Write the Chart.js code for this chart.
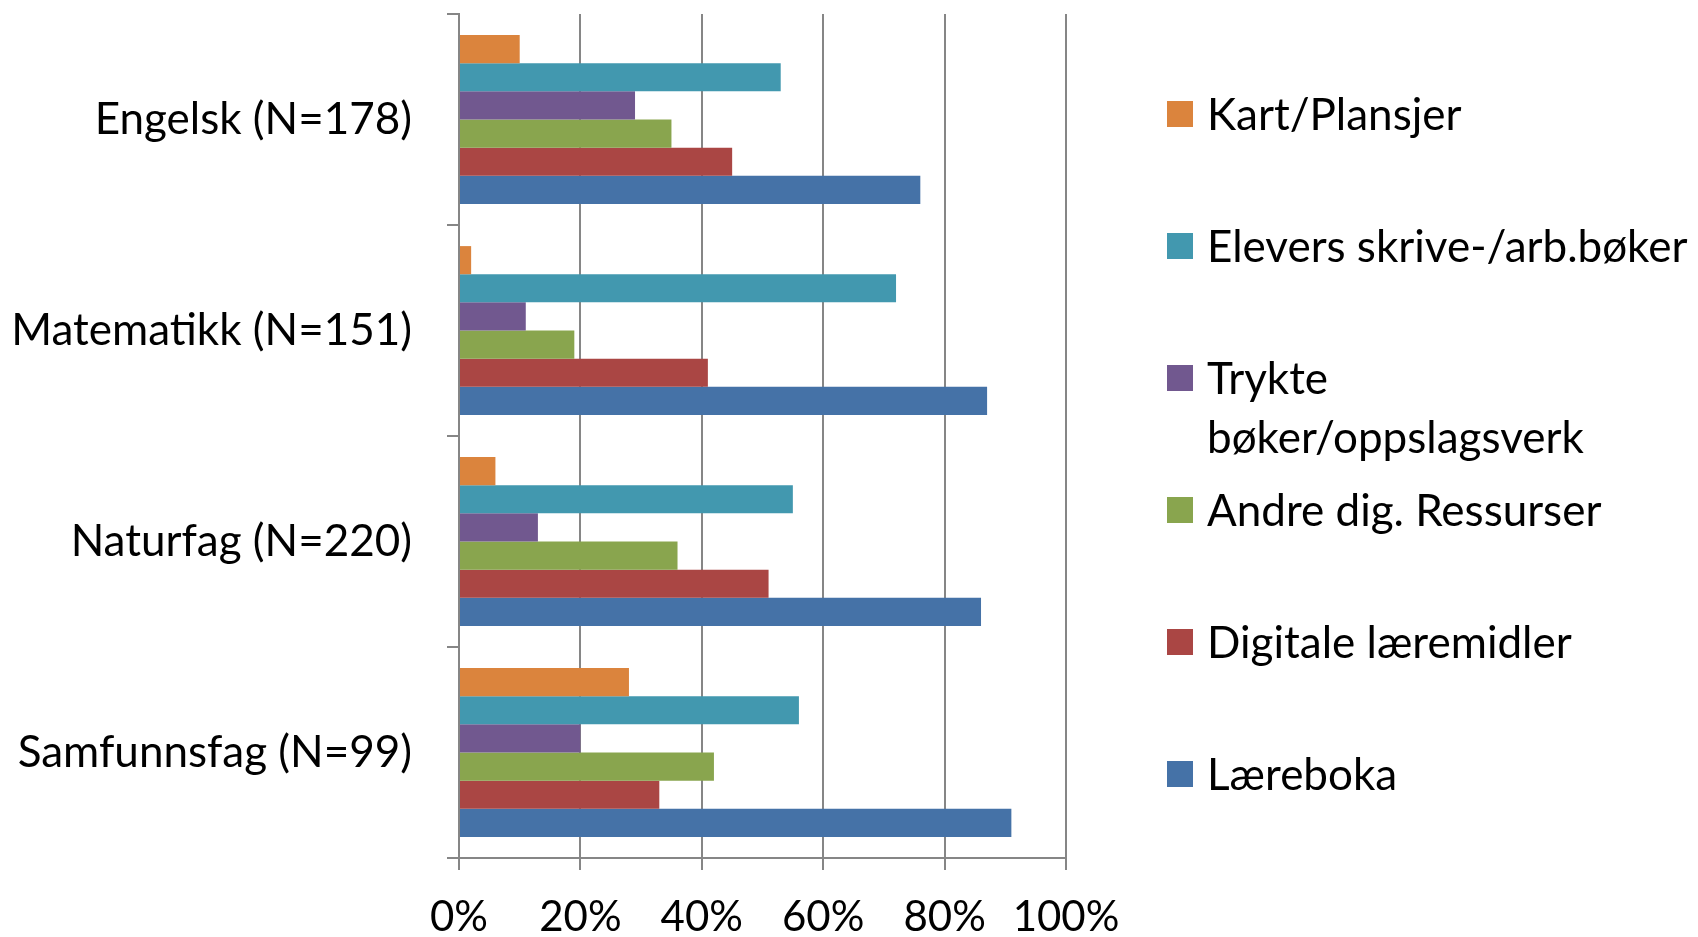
<!DOCTYPE html>
<html>
<head>
<meta charset="utf-8">
<script src="https://cdn.jsdelivr.net/npm/chart.js@4.4.0/dist/chart.umd.min.js"></script>
<style>
  body { margin: 0; background: #fff; }
  #wrap { position: relative; width: 1698px; height: 937px; }
  #legend { position: absolute; left: 1167px; top: 84px; font-family: Lato, sans-serif; font-size: 44px; color: #000; }
  .item { display: flex; align-items: flex-start; height: 132px; }
  .box { width: 26px; height: 26px; margin-top: 17px; margin-right: 14px; flex: none; }
  .txt { line-height: 59px; white-space: nowrap; }
</style>
</head>
<body>
<div id="wrap">
  <canvas id="bar-chartcanvas" width="1698" height="937"></canvas>
  <div id="legend"></div>
</div>
<script>
// categories and series (percent)
var subjects = ["Engelsk (N=178)", "Matematikk (N=151)", "Naturfag (N=220)", "Samfunnsfag (N=99)"];
var seriesNames = ["Kart/Plansjer", "Elevers skrive-/arb.bøker", ["Trykte", "bøker/oppslagsverk"], "Andre dig. Ressurser", "Digitale læremidler", "Læreboka"];
var seriesColors = ["#DB843D", "#4298AF", "#71588F", "#89A54E", "#AA4644", "#4572A7"];

var kart      = [10, 2, 6, 28];
var elevers   = [53, 72, 55, 56];
var trykte    = [29, 11, 13, 20];
var andre     = [35, 19, 36, 42];
var digitale  = [45, 41, 51, 33];
var laereboka = [76, 87, 86, 91];

var xTicks = [0, 20, 40, 60, 80, 100];

var seriesValues = [kart, elevers, trykte, andre, digitale, laereboka];
var gridColor = "#868686";

var datasets = [];
for (var i = 0; i < seriesValues.length; i++) {
  datasets.push({
    label: seriesNames[i],
    data: seriesValues[i],
    backgroundColor: seriesColors[i],
    borderWidth: 0,
    categoryPercentage: 0.8,
    barPercentage: 1.0
  });
}

var ctx = document.getElementById("bar-chartcanvas");

var chart = new Chart(ctx, {
  type: "bar",
  data: {
    labels: subjects,
    datasets: datasets
  },
  options: {
    indexAxis: "y",
    responsive: false,
    animation: false,
    layout: { padding: { top: 14, right: 632, bottom: 0, left: 0 } },
    plugins: {
      legend: { display: false },
      tooltip: { enabled: false }
    },
    scales: {
      x: {
        min: xTicks[0],
        max: xTicks[xTicks.length - 1],
        afterBuildTicks: function(scale) {
          scale.ticks = xTicks.map(function(v) { return { value: v }; });
        },
        afterFit: function(scale) { scale.height = 79; },
        grid: { color: gridColor, lineWidth: 2, tickLength: 12 },
        border: { color: gridColor, width: 2 },
        ticks: {
          padding: 22,
          color: "#000",
          font: { family: "Lato", size: 42 },
          callback: function(v) { return v + "%"; }
        }
      },
      y: {
        afterFit: function(scale) {
          scale.width = 459;
          scale.paddingTop = 0;
          scale.paddingBottom = 0;
        },
        grid: { offset: true, drawOnChartArea: false, color: gridColor, lineWidth: 2, tickLength: 12 },
        border: { color: gridColor, width: 2 },
        ticks: {
          padding: 35,
          color: "#000",
          font: { family: "Lato", size: 44 }
        }
      }
    }
  }
});

// html legend, same order as the bars
var legendEl = document.getElementById("legend");
chart.data.datasets.forEach(function(ds) {
  var item = document.createElement("div");
  item.className = "item";
  var box = document.createElement("div");
  box.className = "box";
  box.style.background = ds.backgroundColor;
  var txt = document.createElement("div");
  txt.className = "txt";
  var lines = Array.isArray(ds.label) ? ds.label : [ds.label];
  lines.forEach(function(line, k) {
    if (k > 0) txt.appendChild(document.createElement("br"));
    txt.appendChild(document.createTextNode(line));
  });
  item.appendChild(box);
  item.appendChild(txt);
  legendEl.appendChild(item);
});
</script>
</body>
</html>
